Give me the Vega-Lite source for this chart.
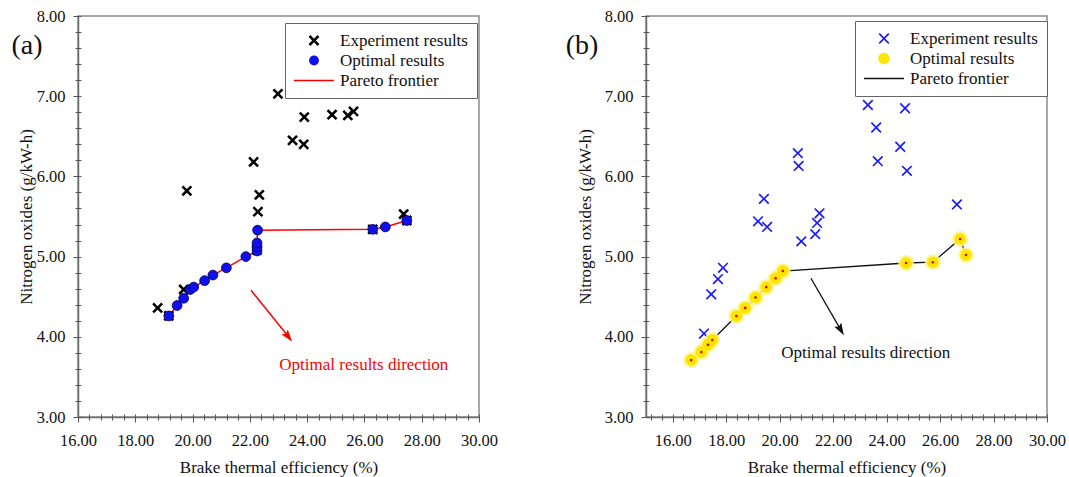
{
  "$schema": "https://vega.github.io/schema/vega-lite/v6.json",
  "background": "white",
  "padding": {"left": 10, "top": 7, "right": 0, "bottom": 0},
  "config": {
    "font": "Liberation Serif",
    "view": {"stroke": "#8c8c8c", "strokeWidth": 1.5},
    "axis": {"grid": false, "labelFont": "Liberation Serif", "titleFont": "Liberation Serif", "labelColor": "#111", "titleColor": "#111", "titleFontWeight": "normal", "labelFontSize": 16.5, "titleFontSize": 17, "domainColor": "#6e6e6e", "domainWidth": 1.5, "tickColor": "#555", "labelFlush": false, "labelOverlap": false, "labelBound": false},
    "legend": {"labelFont": "Liberation Serif", "labelFontSize": 17, "labelColor": "#111", "symbolSize": 1600, "symbolStrokeWidth": 0, "labelOffset": 6, "padding": 9, "rowPadding": 2, "clipHeight": 17, "strokeColor": "#666", "fillColor": "white"}
  },
  "datasets": {
    "expA": [
      {"bte": 18.78, "nox": 4.36, "series": "Experiment results"},
      {"bte": 19.17, "nox": 4.26, "series": "Experiment results"},
      {"bte": 19.69, "nox": 4.59, "series": "Experiment results"},
      {"bte": 19.80, "nox": 5.82, "series": "Experiment results"},
      {"bte": 22.25, "nox": 5.08, "series": "Experiment results"},
      {"bte": 22.28, "nox": 5.56, "series": "Experiment results"},
      {"bte": 22.33, "nox": 5.77, "series": "Experiment results"},
      {"bte": 22.13, "nox": 6.18, "series": "Experiment results"},
      {"bte": 22.98, "nox": 7.03, "series": "Experiment results"},
      {"bte": 23.49, "nox": 6.45, "series": "Experiment results"},
      {"bte": 23.88, "nox": 6.40, "series": "Experiment results"},
      {"bte": 23.90, "nox": 6.74, "series": "Experiment results"},
      {"bte": 24.87, "nox": 6.77, "series": "Experiment results"},
      {"bte": 25.42, "nox": 6.76, "series": "Experiment results"},
      {"bte": 25.62, "nox": 6.81, "series": "Experiment results"},
      {"bte": 26.29, "nox": 5.34, "series": "Experiment results"},
      {"bte": 27.37, "nox": 5.53, "series": "Experiment results"},
      {"bte": 27.48, "nox": 5.45, "series": "Experiment results"}
    ],
    "optA": [
      {"bte": 19.17, "nox": 4.26, "series": "Optimal results"},
      {"bte": 19.46, "nox": 4.39, "series": "Optimal results"},
      {"bte": 19.69, "nox": 4.48, "series": "Optimal results"},
      {"bte": 19.92, "nox": 4.59, "series": "Optimal results"},
      {"bte": 20.04, "nox": 4.62, "series": "Optimal results"},
      {"bte": 20.42, "nox": 4.70, "series": "Optimal results"},
      {"bte": 20.71, "nox": 4.77, "series": "Optimal results"},
      {"bte": 21.18, "nox": 4.86, "series": "Optimal results"},
      {"bte": 21.86, "nox": 5.00, "series": "Optimal results"},
      {"bte": 22.25, "nox": 5.07, "series": "Optimal results"},
      {"bte": 22.25, "nox": 5.12, "series": "Optimal results"},
      {"bte": 22.25, "nox": 5.17, "series": "Optimal results"},
      {"bte": 22.27, "nox": 5.33, "series": "Optimal results"},
      {"bte": 26.29, "nox": 5.34, "series": "Optimal results"},
      {"bte": 26.73, "nox": 5.37, "series": "Optimal results"},
      {"bte": 27.48, "nox": 5.45, "series": "Optimal results"}
    ],
    "expB": [
      {"bte": 17.17, "nox": 4.04, "series": "Experiment results"},
      {"bte": 17.44, "nox": 4.53, "series": "Experiment results"},
      {"bte": 17.69, "nox": 4.72, "series": "Experiment results"},
      {"bte": 17.88, "nox": 4.86, "series": "Experiment results"},
      {"bte": 19.19, "nox": 5.44, "series": "Experiment results"},
      {"bte": 19.41, "nox": 5.72, "series": "Experiment results"},
      {"bte": 19.53, "nox": 5.37, "series": "Experiment results"},
      {"bte": 20.68, "nox": 6.29, "series": "Experiment results"},
      {"bte": 20.71, "nox": 6.13, "series": "Experiment results"},
      {"bte": 20.81, "nox": 5.19, "series": "Experiment results"},
      {"bte": 21.33, "nox": 5.28, "series": "Experiment results"},
      {"bte": 21.40, "nox": 5.42, "series": "Experiment results"},
      {"bte": 21.49, "nox": 5.54, "series": "Experiment results"},
      {"bte": 23.30, "nox": 6.89, "series": "Experiment results"},
      {"bte": 23.61, "nox": 6.61, "series": "Experiment results"},
      {"bte": 23.67, "nox": 6.19, "series": "Experiment results"},
      {"bte": 24.51, "nox": 6.37, "series": "Experiment results"},
      {"bte": 24.69, "nox": 6.85, "series": "Experiment results"},
      {"bte": 24.76, "nox": 6.07, "series": "Experiment results"},
      {"bte": 26.63, "nox": 5.65, "series": "Experiment results"}
    ],
    "optB": [
      {"bte": 16.69, "nox": 3.71, "series": "Optimal results"},
      {"bte": 17.07, "nox": 3.81, "series": "Optimal results"},
      {"bte": 17.32, "nox": 3.90, "series": "Optimal results"},
      {"bte": 17.48, "nox": 3.96, "series": "Optimal results"},
      {"bte": 18.38, "nox": 4.26, "series": "Optimal results"},
      {"bte": 18.71, "nox": 4.36, "series": "Optimal results"},
      {"bte": 19.10, "nox": 4.49, "series": "Optimal results"},
      {"bte": 19.50, "nox": 4.62, "series": "Optimal results"},
      {"bte": 19.85, "nox": 4.73, "series": "Optimal results"},
      {"bte": 20.12, "nox": 4.82, "series": "Optimal results"},
      {"bte": 24.73, "nox": 4.92, "series": "Optimal results"},
      {"bte": 25.73, "nox": 4.93, "series": "Optimal results"},
      {"bte": 26.75, "nox": 5.22, "series": "Optimal results"},
      {"bte": 26.97, "nox": 5.02, "series": "Optimal results"}
    ]
  },
  "hconcat": [
    {
      "width": 401,
      "height": 401,
      "resolve": {"axis": {"x": "independent", "y": "independent"}},
      "layer": [
        {
          "data": {"name": "optA"},
          "mark": {"type": "line", "color": "#ff0000", "strokeWidth": 1.5},
          "encoding": {
            "x": {"field": "bte", "type": "quantitative", "scale": {"domain": [16, 30], "nice": false, "zero": false},
              "axis": {"orient": "bottom", "values": [16, 18, 20, 22, 24, 26, 28, 30], "format": ".2f", "title": "Brake thermal efficiency (%)", "tickSize": 5, "labelPadding": 10, "titlePadding": 11}},
            "y": {"field": "nox", "type": "quantitative", "scale": {"domain": [3, 8], "nice": false, "zero": false},
              "axis": {"orient": "left", "values": [3, 4, 5, 6, 7, 8], "format": ".2f", "title": "Nitrogen oxides (g/kW-h)", "tickSize": 5, "labelPadding": 8, "titlePadding": 1}},
            "order": {"field": "nox", "type": "quantitative"}
          }
        },
        {
          "data": {"name": "expA"},
          "mark": {"type": "point", "filled": true, "size": 1600, "strokeWidth": 0, "opacity": 1},
          "encoding": {
            "x": {"field": "bte", "type": "quantitative",
              "axis": {"orient": "bottom", "values": [16, 16.4, 16.8, 17.2, 17.6, 18, 18.4, 18.8, 19.2, 19.6, 20, 20.4, 20.8, 21.2, 21.6, 22, 22.4, 22.8, 23.2, 23.6, 24, 24.4, 24.8, 25.2, 25.6, 26, 26.4, 26.8, 27.2, 27.6, 28, 28.4, 28.8, 29.2, 29.6, 30], "offset": -3, "tickSize": 6, "domain": false, "labels": false, "title": null}},
            "y": {"field": "nox", "type": "quantitative",
              "axis": {"orient": "left", "values": [3, 3.2, 3.4, 3.6, 3.8, 4, 4.2, 4.4, 4.6, 4.8, 5, 5.2, 5.4, 5.6, 5.8, 6, 6.2, 6.4, 6.6, 6.8, 7, 7.2, 7.4, 7.6, 7.8, 8], "offset": -3, "tickSize": 6, "domain": false, "labels": false, "title": null}},
            "shape": {"field": "series", "type": "nominal",
              "scale": {"domain": ["Experiment results", "Optimal results", "Pareto frontier"], "range": ["M0.27,-0.18L0.09,0L0.27,0.18L0.18,0.27L0,0.09L-0.18,0.27L-0.27,0.18L-0.09,0L-0.27,-0.18L-0.18,-0.27L0,-0.09L0.18,-0.27Z", "M0.245,0A0.245,0.245,0,1,1,-0.245,0A0.245,0.245,0,1,1,0.245,0Z", "M-1,-0.04L1,-0.04L1,0.04L-1,0.04Z"]},
              "legend": {"title": null, "orient": "none", "legendX": 207, "legendY": 7}},
            "fill": {"field": "series", "type": "nominal",
              "scale": {"domain": ["Experiment results", "Optimal results", "Pareto frontier"], "range": ["#000000", "#1010ee", "#ff0000"]},
              "legend": {"title": null, "orient": "none", "legendX": 207, "legendY": 7}}
          }
        },
        {
          "data": {"name": "optA"},
          "mark": {"type": "point", "filled": true, "size": 1600, "stroke": "#00004a", "strokeWidth": 0.8, "opacity": 1},
          "encoding": {
            "x": {"field": "bte", "type": "quantitative", "axis": null},
            "y": {"field": "nox", "type": "quantitative", "axis": null},
            "shape": {"field": "series", "type": "nominal",
              "scale": {"domain": ["Experiment results", "Optimal results", "Pareto frontier"], "range": ["M0.27,-0.18L0.09,0L0.27,0.18L0.18,0.27L0,0.09L-0.18,0.27L-0.27,0.18L-0.09,0L-0.27,-0.18L-0.18,-0.27L0,-0.09L0.18,-0.27Z", "M0.245,0A0.245,0.245,0,1,1,-0.245,0A0.245,0.245,0,1,1,0.245,0Z", "M-1,-0.04L1,-0.04L1,0.04L-1,0.04Z"]},
              "legend": {"title": null, "orient": "none", "legendX": 207, "legendY": 7}},
            "fill": {"field": "series", "type": "nominal",
              "scale": {"domain": ["Experiment results", "Optimal results", "Pareto frontier"], "range": ["#000000", "#1010ee", "#ff0000"]},
              "legend": {"title": null, "orient": "none", "legendX": 207, "legendY": 7}}
          }
        },
        {
          "data": {"values": [{}]},
          "mark": {"type": "rule", "color": "#ff0000", "strokeWidth": 1.5},
          "encoding": {
            "x": {"datum": 22.04, "type": "quantitative", "axis": null},
            "y": {"datum": 4.58, "type": "quantitative", "axis": null},
            "x2": {"datum": 23.33},
            "y2": {"datum": 4.01}
          }
        },
        {
          "data": {"values": [{}]},
          "mark": {"type": "point", "filled": true, "opacity": 1, "color": "#ff0000", "size": 180, "angle": 322, "shape": "M0,1L-0.6,-0.8L0,-0.5L0.6,-0.8Z"},
          "encoding": {
            "x": {"datum": 23.33, "type": "quantitative", "axis": null},
            "y": {"datum": 4.006, "type": "quantitative", "axis": null}
          }
        },
        {
          "data": {"values": [{}]},
          "mark": {"type": "text", "text": "Optimal results direction", "color": "#ff0000", "fontSize": 17, "font": "Liberation Serif", "align": "center", "baseline": "middle"},
          "encoding": {
            "x": {"datum": 25.98, "type": "quantitative", "axis": null},
            "y": {"datum": 3.65, "type": "quantitative", "axis": null}
          }
        },
        {
          "data": {"values": [{}]},
          "mark": {"type": "text", "text": "(a)", "color": "#111", "fontSize": 28, "font": "Liberation Serif", "align": "center", "baseline": "middle"},
          "encoding": {
            "x": {"datum": 14.22, "type": "quantitative", "axis": null},
            "y": {"datum": 7.63, "type": "quantitative", "axis": null}
          }
        }
      ]
    },
    {
      "width": 401,
      "height": 401,
      "resolve": {"axis": {"x": "independent", "y": "independent"}},
      "layer": [
        {
          "data": {"name": "optB"},
          "mark": {"type": "line", "color": "#111111", "strokeWidth": 1.3},
          "encoding": {
            "x": {"field": "bte", "type": "quantitative", "scale": {"domain": [15, 30], "nice": false, "zero": false},
              "axis": {"orient": "bottom", "values": [16, 18, 20, 22, 24, 26, 28, 30], "format": ".2f", "title": "Brake thermal efficiency (%)", "tickSize": 5, "labelPadding": 10, "titlePadding": 11}},
            "y": {"field": "nox", "type": "quantitative", "scale": {"domain": [3, 8], "nice": false, "zero": false},
              "axis": {"orient": "left", "values": [3, 4, 5, 6, 7, 8], "format": ".2f", "title": "Nitrogen oxides (g/kW-h)", "tickSize": 5, "labelPadding": 8, "titlePadding": 10}}
          }
        },
        {
          "data": {"name": "expB"},
          "mark": {"type": "point", "filled": true, "size": 1600, "strokeWidth": 0, "opacity": 1},
          "encoding": {
            "x": {"field": "bte", "type": "quantitative",
              "axis": {"orient": "bottom", "values": [15.2, 15.6, 16, 16.4, 16.8, 17.2, 17.6, 18, 18.4, 18.8, 19.2, 19.6, 20, 20.4, 20.8, 21.2, 21.6, 22, 22.4, 22.8, 23.2, 23.6, 24, 24.4, 24.8, 25.2, 25.6, 26, 26.4, 26.8, 27.2, 27.6, 28, 28.4, 28.8, 29.2, 29.6, 30], "offset": -3, "tickSize": 6, "domain": false, "labels": false, "title": null}},
            "y": {"field": "nox", "type": "quantitative",
              "axis": {"orient": "left", "values": [3, 3.2, 3.4, 3.6, 3.8, 4, 4.2, 4.4, 4.6, 4.8, 5, 5.2, 5.4, 5.6, 5.8, 6, 6.2, 6.4, 6.6, 6.8, 7, 7.2, 7.4, 7.6, 7.8, 8], "offset": -3, "tickSize": 6, "domain": false, "labels": false, "title": null}},
            "shape": {"field": "series", "type": "nominal",
              "scale": {"domain": ["Experiment results", "Optimal results", "Pareto frontier"], "range": ["M0.27,-0.211L0.059,0L0.27,0.211L0.211,0.27L0,0.059L-0.211,0.27L-0.27,0.211L-0.059,0L-0.27,-0.211L-0.211,-0.27L0,-0.059L0.211,-0.27Z", "M0.29,0A0.29,0.29,0,1,1,-0.29,0A0.29,0.29,0,1,1,0.29,0Z", "M-1,-0.035L1,-0.035L1,0.035L-1,0.035Z"]},
              "legend": {"title": null, "orient": "none", "legendX": 209, "legendY": 5}},
            "fill": {"field": "series", "type": "nominal",
              "scale": {"domain": ["Experiment results", "Optimal results", "Pareto frontier"], "range": ["#1a1aff", "#ffe600", "#111111"]},
              "legend": {"title": null, "orient": "none", "legendX": 209, "legendY": 5}}
          }
        },
        {
          "data": {"name": "optB"},
          "mark": {"type": "point", "filled": true, "size": 250, "shape": "circle", "color": "#fff38a", "strokeWidth": 0, "opacity": 0.85},
          "encoding": {
            "x": {"field": "bte", "type": "quantitative", "axis": null},
            "y": {"field": "nox", "type": "quantitative", "axis": null}
          }
        },
        {
          "data": {"name": "optB"},
          "mark": {"type": "point", "filled": true, "size": 1600, "strokeWidth": 0, "opacity": 1},
          "encoding": {
            "x": {"field": "bte", "type": "quantitative", "axis": null},
            "y": {"field": "nox", "type": "quantitative", "axis": null},
            "shape": {"field": "series", "type": "nominal",
              "scale": {"domain": ["Experiment results", "Optimal results", "Pareto frontier"], "range": ["M0.27,-0.211L0.059,0L0.27,0.211L0.211,0.27L0,0.059L-0.211,0.27L-0.27,0.211L-0.059,0L-0.27,-0.211L-0.211,-0.27L0,-0.059L0.211,-0.27Z", "M0.29,0A0.29,0.29,0,1,1,-0.29,0A0.29,0.29,0,1,1,0.29,0Z", "M-1,-0.035L1,-0.035L1,0.035L-1,0.035Z"]},
              "legend": {"title": null, "orient": "none", "legendX": 209, "legendY": 5}},
            "fill": {"field": "series", "type": "nominal",
              "scale": {"domain": ["Experiment results", "Optimal results", "Pareto frontier"], "range": ["#1a1aff", "#ffe600", "#111111"]},
              "legend": {"title": null, "orient": "none", "legendX": 209, "legendY": 5}}
          }
        },
        {
          "data": {"name": "optB"},
          "mark": {"type": "point", "filled": true, "size": 7, "shape": "circle", "color": "#e00000", "strokeWidth": 0, "opacity": 1},
          "encoding": {
            "x": {"field": "bte", "type": "quantitative", "axis": null},
            "y": {"field": "nox", "type": "quantitative", "axis": null}
          }
        },
        {
          "data": {"values": [{}]},
          "mark": {"type": "rule", "color": "#111111", "strokeWidth": 1.3},
          "encoding": {
            "x": {"datum": 21.17, "type": "quantitative", "axis": null},
            "y": {"datum": 4.73, "type": "quantitative", "axis": null},
            "x2": {"datum": 22.275},
            "y2": {"datum": 4.092}
          }
        },
        {
          "data": {"values": [{}]},
          "mark": {"type": "point", "filled": true, "opacity": 1, "color": "#111111", "size": 180, "angle": 330, "shape": "M0,1L-0.6,-0.8L0,-0.5L0.6,-0.8Z"},
          "encoding": {
            "x": {"datum": 22.275, "type": "quantitative", "axis": null},
            "y": {"datum": 4.092, "type": "quantitative", "axis": null}
          }
        },
        {
          "data": {"values": [{}]},
          "mark": {"type": "text", "text": "Optimal results direction", "color": "#111", "fontSize": 17, "font": "Liberation Serif", "align": "center", "baseline": "middle"},
          "encoding": {
            "x": {"datum": 23.22, "type": "quantitative", "axis": null},
            "y": {"datum": 3.80, "type": "quantitative", "axis": null}
          }
        },
        {
          "data": {"values": [{}]},
          "mark": {"type": "text", "text": "(b)", "color": "#111", "fontSize": 28, "font": "Liberation Serif", "align": "center", "baseline": "middle"},
          "encoding": {
            "x": {"datum": 12.61, "type": "quantitative", "axis": null},
            "y": {"datum": 7.63, "type": "quantitative", "axis": null}
          }
        }
      ]
    }
  ],
  "spacing": 167,
  "bounds": "flush",
  "resolve": {"scale": {"fill": "independent", "shape": "independent"}, "legend": {"fill": "independent", "shape": "independent"}}
}
